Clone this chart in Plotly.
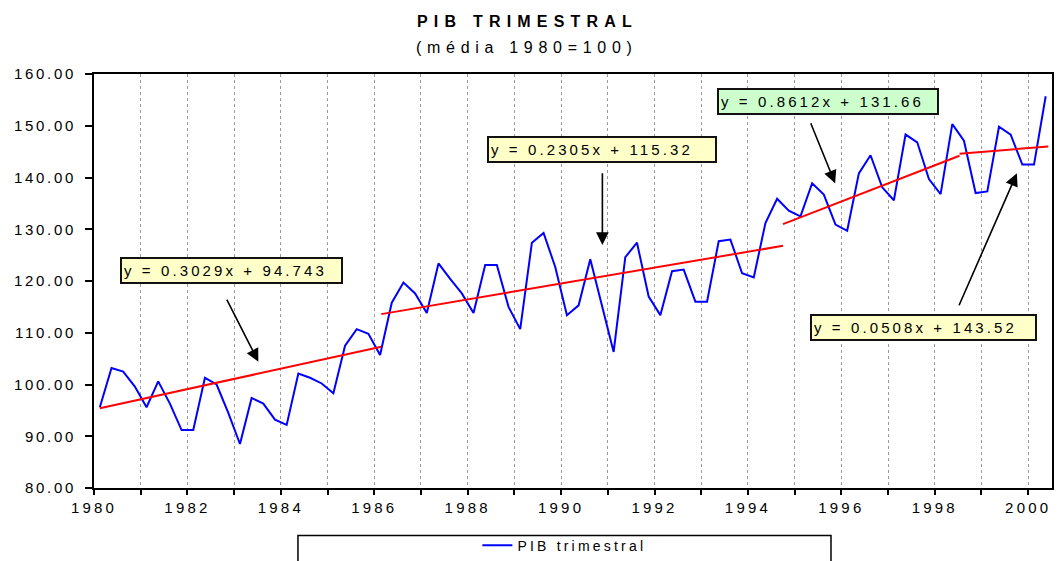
import numpy as np
import plotly.graph_objects as go

# ---------------- data ----------------
start_year = 1980
pib = [95.6, 103.2, 102.5, 99.6, 95.6, 100.6, 96.3, 91.2, 91.2, 101.3,
       100.0, 94.5, 88.5, 97.4, 96.3, 93.2, 92.2, 102.1, 101.3, 100.2,
       98.3, 107.5, 110.7, 109.8, 105.7, 115.8, 119.7, 117.6, 113.8, 123.4,
       120.4, 117.6, 113.8, 123.1, 123.1, 115.0, 110.7, 127.4, 129.3, 122.7,
       113.4, 115.3, 124.2, 115.3, 106.3, 124.6, 127.4, 117.0, 113.4, 121.9,
       122.2, 116.0, 116.0, 127.7, 128.0, 121.5, 120.7, 131.2, 135.9, 133.6,
       132.5, 138.9, 136.7, 130.9, 129.7, 140.8, 144.3, 138.1, 135.6, 148.3,
       146.8, 139.7, 136.8, 150.3, 147.1, 137.0, 137.3, 149.8, 148.3, 142.5,
       142.5, 155.7]

# trend segments (year start, value start, year end, value end)
trend_x0 = [1980.125, 1986.15, 1994.75, 1998.53]
trend_y0 = [95.4, 113.6, 131.0, 144.6]
trend_x1 = [1986.15, 1994.75, 1998.53, 2000.43]
trend_y1 = [107.3, 126.8, 144.2, 146.0]

equations = ["y = 0.3029x + 94.743", "y = 0.2305x + 115.32",
             "y = 0.8612x + 131.66", "y = 0.0508x + 143.52"]
eq_colors = ["#FFFFC8", "#FFFFC8", "#CCFFCC", "#FFFFC8"]
eq_x = [1982.944, 1990.878, 1995.707, 1997.758]
eq_y = [121.99, 145.41, 154.63, 111.01]
eq_w = [223, 230, 222, 227]

arrow_tail_x = [1982.827, 1990.884, 1995.332, 1998.507]
arrow_tail_y = [116.71, 141.12, 150.78, 115.03]
arrow_head_x = [1983.518, 1990.884, 1995.867, 1999.758]
arrow_head_y = [104.41, 126.96, 138.88, 140.81]

year_ticks = list(range(1980, 2001))
y_ticks = [80, 90, 100, 110, 120, 130, 140, 150, 160]

FONT = "Arial, Liberation Sans, sans-serif"

def sp(t, ls):
    return "<span style='letter-spacing:%spx'>%s</span>" % (ls, t)

# quarter positions (middle of each quarter)
xq = start_year + (np.arange(len(pib)) + 0.5) / 4.0

fig = go.Figure()
fig.add_trace(go.Scatter(x=xq, y=pib, mode="lines",
                         line=dict(color="#0000FF", width=2),
                         name=sp("PIB trimestral", 3.2)))
for i in range(len(trend_x0)):
    fig.add_trace(go.Scatter(x=[trend_x0[i], trend_x1[i]],
                             y=[trend_y0[i], trend_y1[i]],
                             mode="lines", line=dict(color="#FF0000", width=2),
                             showlegend=False, hoverinfo="skip"))

annotations = []
for i in range(4):
    annotations.append(dict(
        x=eq_x[i], y=eq_y[i], xref="x", yref="y",
        text=sp(equations[i], 3.1), showarrow=False,
        font=dict(family=FONT, size=15, color="black"),
        bgcolor=eq_colors[i], bordercolor="#111111", borderwidth=2,
        borderpad=2, align="left", width=eq_w[i] - 8, height=19,
        xanchor="center", yanchor="middle"))
    annotations.append(dict(
        x=arrow_head_x[i], y=arrow_head_y[i], xref="x", yref="y",
        ax=arrow_tail_x[i], ay=arrow_tail_y[i], axref="x", ayref="y",
        text="", showarrow=True, arrowhead=2, arrowsize=1.6,
        arrowwidth=1.6, arrowcolor="black"))

annotations.append(dict(
    x=0.452, y=1.126, xref="paper", yref="paper",
    text="<b>" + sp("PIB TRIMESTRAL", 6.2) + "</b>", showarrow=False,
    font=dict(family=FONT, size=16, color="black"),
    xanchor="center", yanchor="middle"))
annotations.append(dict(
    x=0.452, y=1.064, xref="paper", yref="paper",
    text=sp("(média 1980=100)", 5.7), showarrow=False,
    font=dict(family=FONT, size=16, color="black"),
    xanchor="center", yanchor="middle"))

fig.update_layout(
    width=1058, height=561,
    margin=dict(l=94, r=6, t=74, b=73, autoexpand=False),
    paper_bgcolor="white", plot_bgcolor="white",
    font=dict(family=FONT, size=15, color="black"),
    annotations=annotations,
    showlegend=True,
    legend=dict(orientation="h", x=0.491, y=-0.139, xanchor="center",
                yanchor="middle", bgcolor="rgba(0,0,0,0)",
                font=dict(family=FONT, size=14, color="black")),
    shapes=[dict(type="rect", xref="paper", yref="paper",
                 x0=0.2129, x1=0.7693, y0=-0.115, y1=-0.22,
                 line=dict(color="black", width=1.5), fillcolor="rgba(0,0,0,0)")],
)

fig.update_xaxes(
    range=[1980, 2000.51], tickmode="array", tickvals=year_ticks,
    ticktext=[sp(str(y), 3.2) if y % 2 == 0 else "" for y in year_ticks],
    showgrid=True, gridcolor="#9a9a9a", griddash="dot", gridwidth=1,
    showline=True, linecolor="black", linewidth=2, mirror=True,
    ticks="outside", ticklen=5, tickwidth=2, tickcolor="black",
    zeroline=False, automargin=False, tickfont=dict(family=FONT, size=15))
fig.update_yaxes(
    range=[80, 160], tickmode="array", tickvals=y_ticks,
    ticktext=[sp("%.2f" % v, 2.7) for v in y_ticks],
    showgrid=False, showline=True, linecolor="black", linewidth=2, mirror=True,
    ticks="outside", ticklen=7, tickwidth=2, tickcolor="black",
    ticklabelstandoff=6,
    zeroline=False, automargin=False, tickfont=dict(family=FONT, size=15))

fig.write_html("out.html", config={"displayModeBar": False},
               post_script="document.body.style.margin='0px';")
